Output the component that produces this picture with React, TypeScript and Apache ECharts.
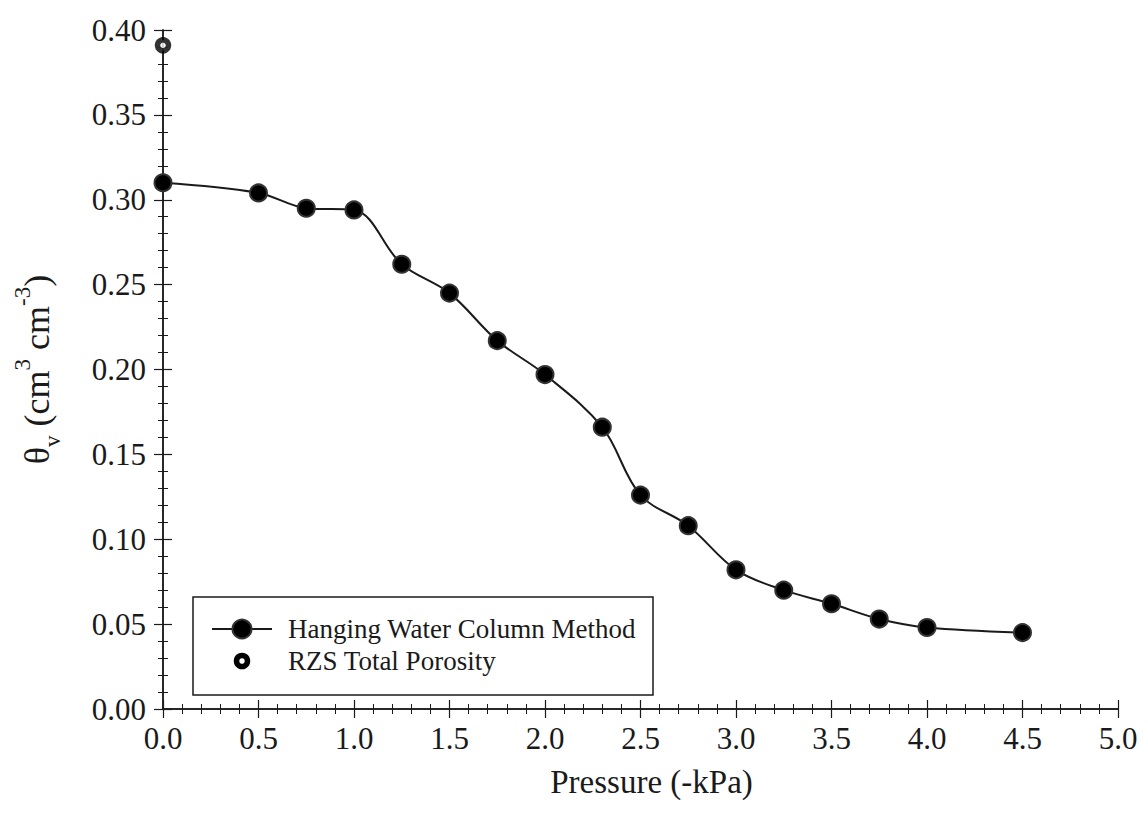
import React, { useEffect, useRef } from "react";
import * as echarts from "echarts";

const pressure = [0, 0.5, 0.75, 1.0, 1.25, 1.5, 1.75, 2.0, 2.3, 2.5, 2.75, 3.0, 3.25, 3.5, 3.75, 4.0, 4.5];
const theta = [0.31, 0.304, 0.295, 0.294, 0.262, 0.245, 0.217, 0.197, 0.166, 0.126, 0.108, 0.082, 0.07, 0.062, 0.053, 0.048, 0.045];
const porosityPressure = [0];
const porosityTheta = [0.391];
const seriesNames = ["Hanging Water Column Method", "RZS Total Porosity"];

const FONT = "'Liberation Serif', 'Times New Roman', serif";
const INK = "#1a1a1a";

export default function App() {
  const ref = useRef<HTMLDivElement>(null);
  useEffect(() => {
    document.body.style.margin = "0";
    const chart = echarts.init(ref.current!, null, { renderer: "svg" });
    const axisCommon = {
      axisLine: { show: true, lineStyle: { color: INK, width: 1.5 } },
      axisTick: { show: true, inside: true, length: 9, lineStyle: { color: INK, width: 1.2 } },
      minorTick: { show: true, splitNumber: 5, length: 5, lineStyle: { color: INK, width: 1 } },
      splitLine: { show: false },
    };
    const xBase = { type: "value", min: 0, max: 5, interval: 0.5, ...axisCommon };
    const yBase = { type: "value", min: 0, max: 0.4, interval: 0.05, ...axisCommon };
    const legendTop = 629;
    const legendGap = 32;
    chart.setOption({
      animation: false,
      backgroundColor: "#ffffff",
      grid: { left: 163, right: 30, top: 30, bottom: 105, containLabel: false },
      xAxis: [
        {
          ...xBase,
          position: "bottom",
          name: "Pressure (-kPa)",
          nameLocation: "middle",
          nameGap: 56,
          nameTextStyle: { fontFamily: FONT, fontSize: 33, color: INK, padding: [0, 0, 0, 22] },
          axisLabel: {
            margin: 14,
            fontFamily: FONT,
            fontSize: 31,
            color: INK,
            formatter: (v: number) => v.toFixed(1),
          },
        },
        { ...xBase, position: "top", axisLabel: { show: false } },
      ],
      yAxis: [
        {
          ...yBase,
          position: "left",
          name: "{t|θ}{sub|v}{t| (cm}{sup|3}{t| cm}{sup|-3}{t|)}",
          nameLocation: "middle",
          nameGap: 106,
          nameRotate: 90,
          nameTextStyle: {
            fontFamily: FONT,
            color: INK,
            rich: {
              t: { fontFamily: FONT, fontSize: 36, color: INK, lineHeight: 40 },
              sub: { fontFamily: FONT, fontSize: 23, color: INK, lineHeight: 40, padding: [30, 0, 0, 0] },
              sup: { fontFamily: FONT, fontSize: 23, color: INK, lineHeight: 40, padding: [0, 0, 30, 0] },
            },
          },
          axisLabel: {
            margin: 17,
            fontFamily: FONT,
            fontSize: 31,
            color: INK,
            formatter: (v: number) => v.toFixed(2),
          },
        },
        { ...yBase, position: "right", axisLabel: { show: false } },
      ],
      graphic: [
        {
          type: "rect",
          shape: { x: 193, y: 597, width: 460, height: 98 },
          style: { fill: "#ffffff", stroke: INK, lineWidth: 1.5 },
          silent: true,
          z: 10,
        },
        {
          type: "line",
          shape: { x1: 212, y1: legendTop, x2: 272, y2: legendTop },
          style: { stroke: INK, lineWidth: 2 },
          silent: true,
          z: 11,
        },
        {
          type: "circle",
          shape: { cx: 242, cy: legendTop, r: 9.5 },
          style: { fill: "#000000", stroke: "#333333", lineWidth: 2 },
          silent: true,
          z: 12,
        },
        {
          type: "text",
          x: 288,
          y: legendTop,
          style: { text: seriesNames[0], font: `27px ${FONT}`, fill: INK, verticalAlign: "middle" },
          silent: true,
          z: 12,
        },
        {
          type: "circle",
          shape: { cx: 242, cy: legendTop + legendGap, r: 5.5 },
          style: { fill: "#ffffff", stroke: "#000000", lineWidth: 5.5 },
          silent: true,
          z: 12,
        },
        {
          type: "text",
          x: 288,
          y: legendTop + legendGap,
          style: { text: seriesNames[1], font: `27px ${FONT}`, fill: INK, verticalAlign: "middle" },
          silent: true,
          z: 12,
        },
      ],
      series: [
        {
          name: seriesNames[0],
          type: "line",
          smooth: 0.35,
          data: pressure.map((p, i) => [p, theta[i]]),
          symbol: "circle",
          symbolSize: 17,
          lineStyle: { color: INK, width: 2 },
          itemStyle: { color: "#000000", borderColor: "#333333", borderWidth: 2 },
          z: 3,
        },
        {
          name: seriesNames[1],
          type: "scatter",
          data: porosityPressure.map((p, i) => [p, porosityTheta[i]]),
          symbol: "circle",
          symbolSize: 11,
          itemStyle: { color: "#ffffff", borderColor: "#000000", borderWidth: 5.5 },
          z: 4,
        },
      ],
    });
    return () => chart.dispose();
  }, []);
  return <div ref={ref} style={{ position: "fixed", left: 0, top: 0, width: 1148, height: 814 }} />;
}
